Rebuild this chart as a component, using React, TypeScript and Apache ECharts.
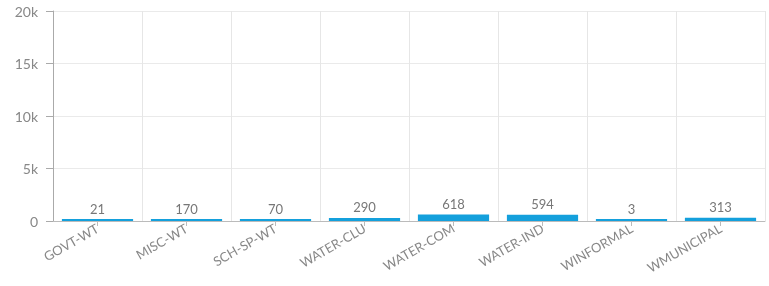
import React, { useEffect, useRef } from "react";
import * as echarts from "echarts";

const categories = ["GOVT-WT", "MISC-WT", "SCH-SP-WT", "WATER-CLU", "WATER-COM", "WATER-IND", "WINFORMAL", "WMUNICIPAL"];
const values = [21, 170, 70, 290, 618, 594, 3, 313];

export default function App() {
  const ref = useRef<HTMLDivElement>(null);
  useEffect(() => {
    const chart = echarts.init(ref.current!, null, { renderer: "svg" });
    chart.setOption({
      animation: false,
      grid: { left: 53, top: 11, right: 4, bottom: 65 },
      xAxis: {
        type: "category",
        data: categories,
        axisLine: { lineStyle: { color: "#bbb" } },
        axisTick: { show: true, alignWithLabel: true, length: 5, lineStyle: { color: "#bbb" } },
        splitLine: { show: true, lineStyle: { color: "#e6e6e6" } },
        axisLabel: { rotate: 30, color: "#888", fontFamily: "Lato", fontSize: 13, margin: 6 },
      },
      yAxis: {
        type: "value",
        min: 0,
        max: 20000,
        interval: 5000,
        axisLine: { show: true, lineStyle: { color: "#aaa" } },
        axisTick: { show: true, length: 7, lineStyle: { color: "#aaa" } },
        splitLine: { show: true, lineStyle: { color: "#eaeaea" } },
        axisLabel: {
          color: "#888",
          fontFamily: "Lato",
          fontSize: 14,
          margin: 15,
          formatter: (v: number) => (v === 0 ? "0" : v / 1000 + "k"),
        },
      },
      series: [
        {
          type: "bar",
          data: values,
          barWidth: "80%",
          barMinHeight: 2,
          itemStyle: { color: "#14a0dc" },
          label: { show: true, position: "top", color: "#777", fontFamily: "Lato", fontSize: 13, distance: 4 },
        },
      ],
    });
    return () => chart.dispose();
  }, []);
  return <div ref={ref} style={{ position: "fixed", left: 0, top: 0, width: 769, height: 286 }} />;
}
